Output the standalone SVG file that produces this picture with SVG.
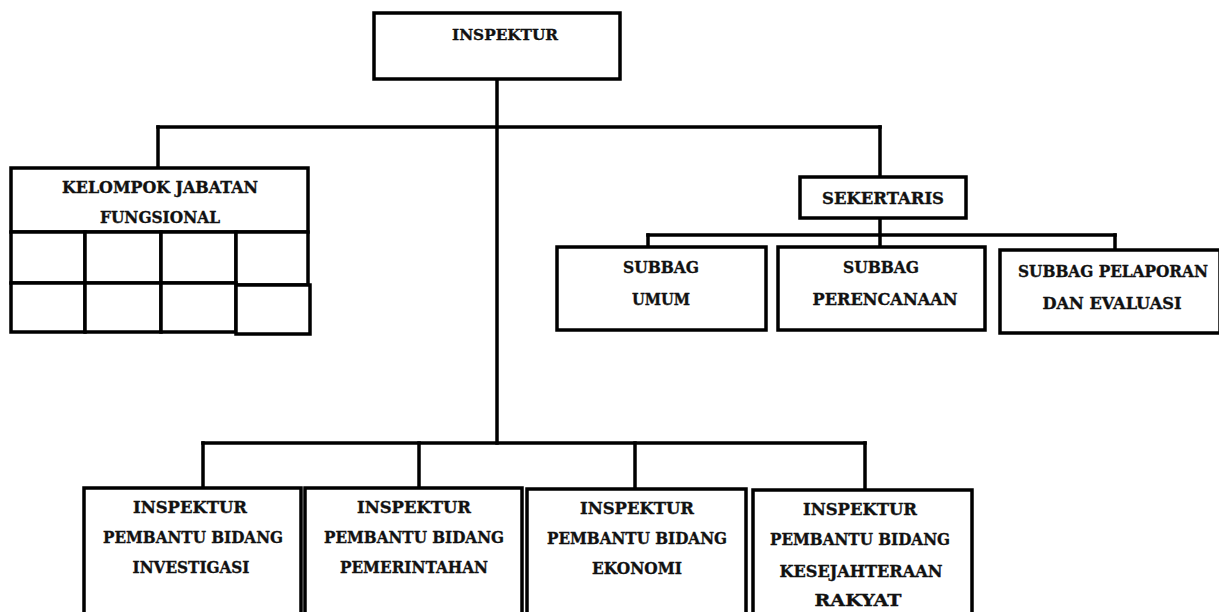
<svg xmlns="http://www.w3.org/2000/svg" width="1219" height="612" viewBox="0 0 1219 612">
  <style>
    .box { fill: #ffffff; stroke: #000000; stroke-width: 3.5; }
    .cell { fill: #ffffff; stroke: #000000; stroke-width: 3.5; }
    .wire { fill: none; stroke: #000000; stroke-width: 3.5; stroke-linecap: square; }
    .lbl { font-family: "DejaVu Serif", "Liberation Serif", serif; font-weight: bold; font-size: 16px; fill: #111111; stroke: #111111; stroke-width: 0.35; text-anchor: middle; }
    .sm { font-size: 15px; }
  </style>
  <rect width="1219" height="612" fill="#ffffff"/>

  <!-- connectors -->
  <g id="connectors">
    <path class="wire" d="M497 79 V443"/>
    <path class="wire" d="M158 127 H880"/>
    <path class="wire" d="M158 127 V168"/>
    <path class="wire" d="M880 127 V177"/>
    <path class="wire" d="M880 218 V247"/>
    <path class="wire" d="M648 235 H1115"/>
    <path class="wire" d="M648 235 V247"/>
    <path class="wire" d="M1115 235 V250"/>
    <path class="wire" d="M203 443 H865"/>
    <path class="wire" d="M203 443 V488"/>
    <path class="wire" d="M419 443 V488"/>
    <path class="wire" d="M635 443 V489"/>
    <path class="wire" d="M865 443 V490"/>
  </g>

  <g id="inspektur">
    <rect class="box" x="374" y="13" width="246" height="66"/>
    <text class="lbl sm" x="505" y="40" textLength="106" lengthAdjust="spacingAndGlyphs">INSPEKTUR</text>
  </g>

  <g id="kelompok-jabatan-fungsional">
    <rect class="box" x="11" y="168" width="297" height="64"/>
    <text class="lbl" x="160" y="193" textLength="196" lengthAdjust="spacingAndGlyphs">KELOMPOK JABATAN</text>
    <text class="lbl" x="160" y="223" textLength="120" lengthAdjust="spacingAndGlyphs">FUNGSIONAL</text>
    <rect class="cell" x="11" y="232" width="74" height="51"/>
    <rect class="cell" x="85" y="232" width="76" height="51"/>
    <rect class="cell" x="161" y="232" width="75" height="51"/>
    <rect class="cell" x="236" y="232" width="72" height="53"/>
    <rect class="cell" x="11" y="283" width="74" height="49"/>
    <rect class="cell" x="85" y="283" width="76" height="49"/>
    <rect class="cell" x="161" y="283" width="75" height="49"/>
    <rect class="cell" x="236" y="285" width="74" height="49"/>
  </g>

  <g id="sekertaris">
    <rect class="box" x="800" y="177" width="166" height="41"/>
    <text class="lbl" x="883" y="204" textLength="122" lengthAdjust="spacingAndGlyphs">SEKERTARIS</text>
  </g>

  <g id="subbag-umum">
    <rect class="box" x="557" y="247" width="209" height="83"/>
    <text class="lbl" x="661" y="273" textLength="76" lengthAdjust="spacingAndGlyphs">SUBBAG</text>
    <text class="lbl" x="661" y="305" textLength="58" lengthAdjust="spacingAndGlyphs">UMUM</text>
  </g>

  <g id="subbag-perencanaan">
    <rect class="box" x="778" y="247" width="207" height="83"/>
    <text class="lbl" x="881" y="273" textLength="76" lengthAdjust="spacingAndGlyphs">SUBBAG</text>
    <text class="lbl" x="885" y="305" textLength="145" lengthAdjust="spacingAndGlyphs">PERENCANAAN</text>
  </g>

  <g id="subbag-pelaporan">
    <rect class="box" x="1000" y="250" width="220" height="83"/>
    <text class="lbl" x="1113" y="277" textLength="190" lengthAdjust="spacingAndGlyphs">SUBBAG PELAPORAN</text>
    <text class="lbl" x="1112" y="309" textLength="139" lengthAdjust="spacingAndGlyphs">DAN EVALUASI</text>
  </g>

  <g id="irban-investigasi">
    <rect class="box" x="84" y="488" width="217" height="140"/>
    <text class="lbl" x="190" y="513" textLength="114" lengthAdjust="spacingAndGlyphs">INSPEKTUR</text>
    <text class="lbl" x="193" y="543" textLength="180" lengthAdjust="spacingAndGlyphs">PEMBANTU BIDANG</text>
    <text class="lbl" x="191" y="573" textLength="117" lengthAdjust="spacingAndGlyphs">INVESTIGASI</text>
  </g>

  <g id="irban-pemerintahan">
    <rect class="box" x="305" y="488" width="217" height="140"/>
    <text class="lbl" x="414" y="513" textLength="114" lengthAdjust="spacingAndGlyphs">INSPEKTUR</text>
    <text class="lbl" x="414" y="543" textLength="180" lengthAdjust="spacingAndGlyphs">PEMBANTU BIDANG</text>
    <text class="lbl" x="414" y="573" textLength="148" lengthAdjust="spacingAndGlyphs">PEMERINTAHAN</text>
  </g>

  <g id="irban-ekonomi">
    <rect class="box" x="527" y="489" width="219" height="140"/>
    <text class="lbl" x="637" y="514" textLength="114" lengthAdjust="spacingAndGlyphs">INSPEKTUR</text>
    <text class="lbl" x="637" y="544" textLength="180" lengthAdjust="spacingAndGlyphs">PEMBANTU BIDANG</text>
    <text class="lbl" x="637" y="574" textLength="90" lengthAdjust="spacingAndGlyphs">EKONOMI</text>
  </g>

  <g id="irban-kesra">
    <rect class="box" x="753" y="490" width="219" height="140"/>
    <text class="lbl" x="860" y="515" textLength="114" lengthAdjust="spacingAndGlyphs">INSPEKTUR</text>
    <text class="lbl" x="860" y="545" textLength="180" lengthAdjust="spacingAndGlyphs">PEMBANTU BIDANG</text>
    <text class="lbl" x="861" y="577" textLength="163" lengthAdjust="spacingAndGlyphs">KESEJAHTERAAN</text>
    <text class="lbl" x="858" y="606" textLength="87" lengthAdjust="spacingAndGlyphs">RAKYAT</text>
  </g>
</svg>
